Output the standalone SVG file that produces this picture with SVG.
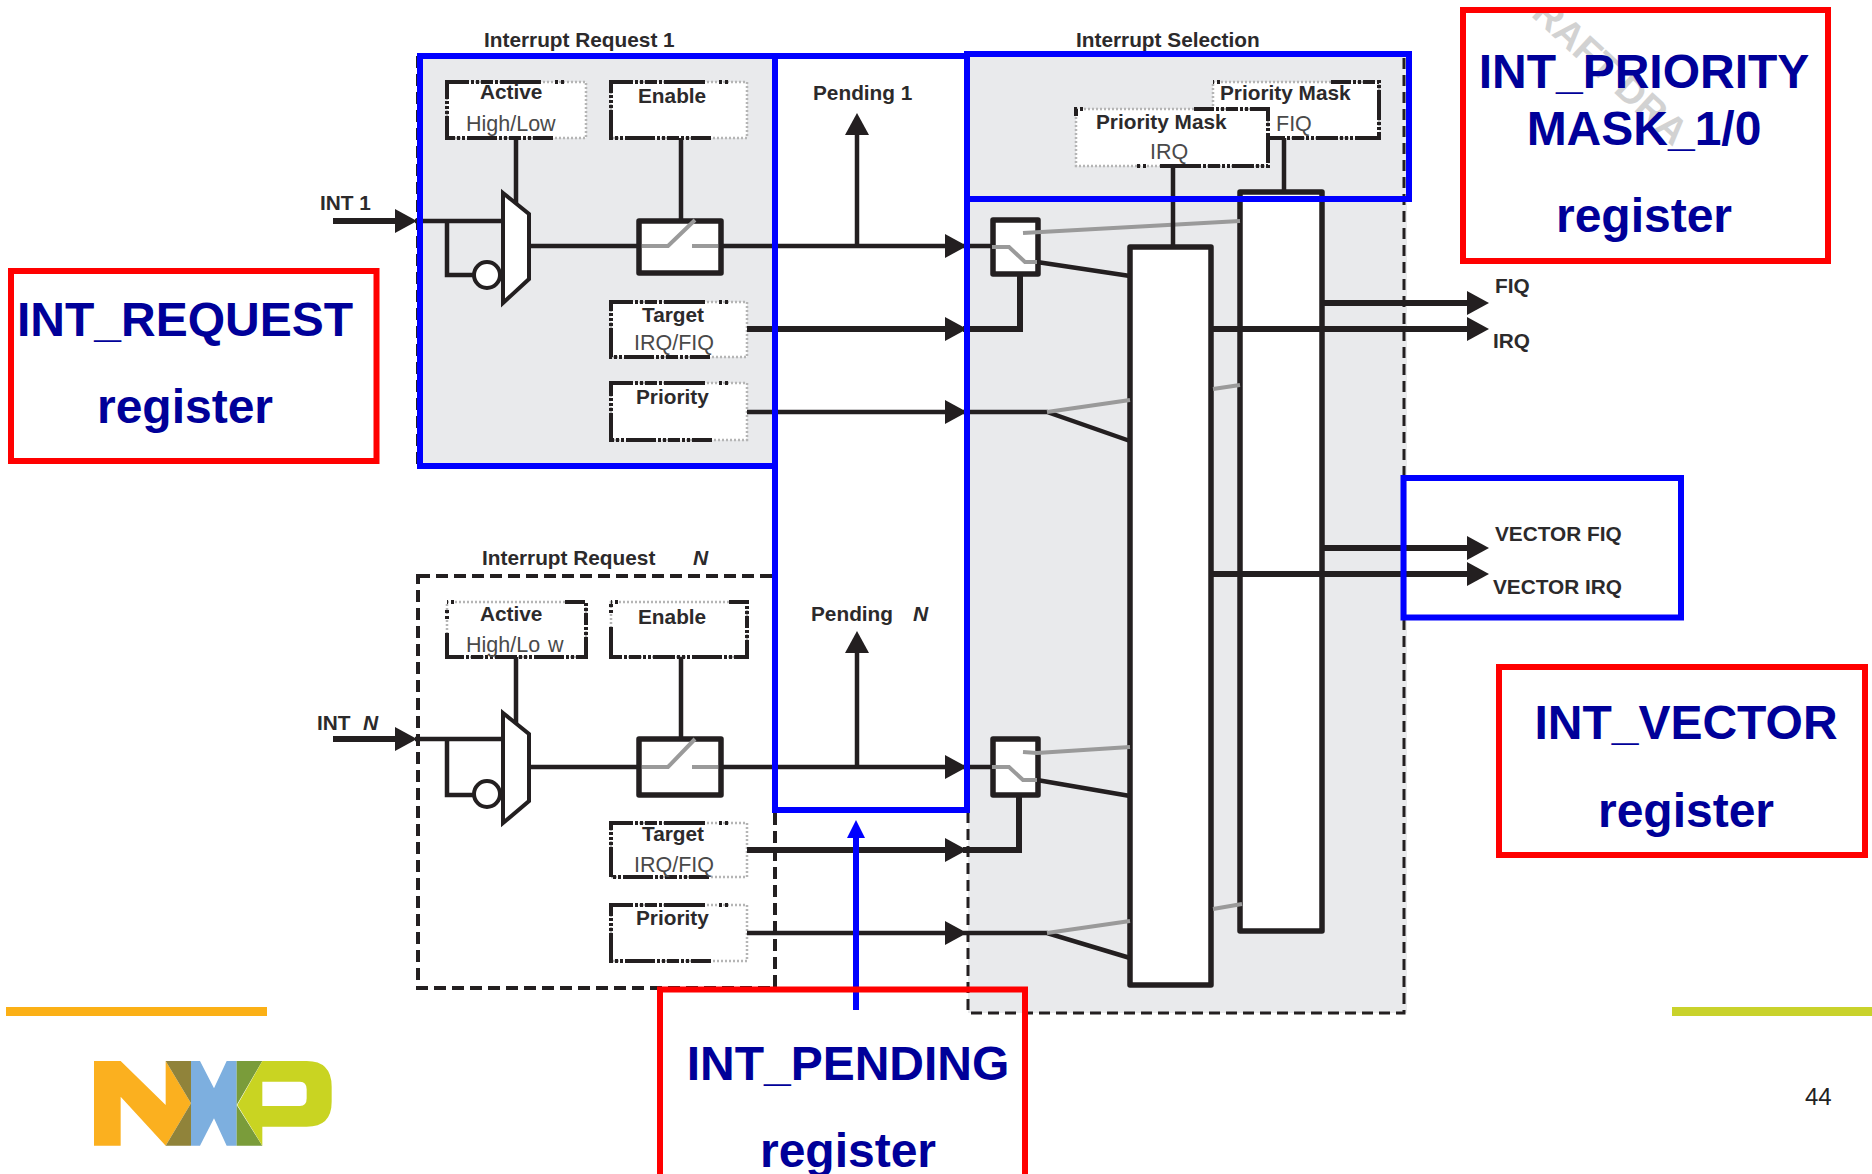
<svg xmlns="http://www.w3.org/2000/svg" width="1872" height="1174" viewBox="0 0 1872 1174">
<style>
text{font-family:"Liberation Sans",Arial,sans-serif}
.b{font-weight:700;font-size:20.8px;fill:#2c2a2b}
.i{font-weight:700;font-style:italic;font-size:21px;fill:#2c2a2b}
.r{font-size:21.5px;fill:#4a4a4a}
.big{font-weight:700;font-size:48px;fill:#000099;text-anchor:middle}
.reg{fill:#fff;stroke:#b5b5b5;stroke-width:2.5;stroke-dasharray:2 2}
.regd{fill:none;stroke:#231f20;stroke-width:4;stroke-dasharray:22 2 3 2 3 2 12 2 3 2 41 14 3 3 3 111 20 2 3 2 3 2 12 2 3 2 3 2 30 2 3 2 3 2 30 2 3 2 3 2 3 2}
.regn{fill:none;stroke:#231f20;stroke-width:4;stroke-dashoffset:110;stroke-dasharray:22 2 3 2 3 2 12 2 3 2 41 14 3 3 3 111 20 2 3 2 3 2 12 2 3 2 3 2 30 2 3 2 3 2 30 2 3 2 3 2 3 2}
.dash{fill:none;stroke:#231f20;stroke-width:4;stroke-dasharray:12 6}
.dash2{fill:none;stroke:#231f20;stroke-width:3;stroke-dasharray:11 6}
.blk{fill:#fff;stroke:#231f20;stroke-width:5.5;stroke-linejoin:round}
.mux{fill:#fff;stroke:#231f20;stroke-width:4}
.w{fill:none;stroke:#231f20;stroke-width:4.5}
.t{fill:none;stroke:#231f20;stroke-width:6}
.g{fill:none;stroke:#9a9a9a;stroke-width:4}
.bl{fill:none;stroke:#0000ff;stroke-width:6}
.rd{fill:none;stroke:#ff0000;stroke-width:6}
</style>
<defs>
<marker id="ah" markerUnits="userSpaceOnUse" markerWidth="24" markerHeight="24" viewBox="0 0 22 24" refX="10" refY="12" orient="auto"><path d="M0 0L22 12L0 24Z" fill="#231f20"/></marker>
<marker id="ahb" markerUnits="userSpaceOnUse" markerWidth="18" markerHeight="18" viewBox="0 0 18 18" refX="8" refY="9" orient="auto"><path d="M0 0L18 9L0 18Z" fill="#0000ff"/></marker>
<clipPath id="wm"><rect x="1466" y="13" width="360" height="245"/></clipPath>
</defs>
<rect width="1872" height="1174" fill="#fff"/>

<g id="bg-request-1"><rect x="418" y="54" width="357" height="412" fill="#e9eaec"/><path class="dash" d="M418 56V466"/></g>
<g id="bg-selection"><rect x="968" y="56" width="439" height="957" fill="#e9eaec"/><path class="dash2" d="M968 200V1013H1404V56"/></g>
<g id="bg-request-n"><rect class="dash" x="418" y="576" width="357" height="412"/></g>

<g id="watermark" clip-path="url(#wm)"><text transform="translate(1510,-3) rotate(42.600)" font-size="38" font-weight="700" fill="#d2d2d2">DRAFT DRA</text></g>

<text class="b" x="484" y="47">Interrupt Request 1</text>
<text class="b" x="482" y="565">Interrupt Request</text><text class="i" x="693" y="565">N</text>
<text class="b" x="1076" y="47">Interrupt Selection</text>
<text class="b" x="320" y="210">INT 1</text>
<text class="b" x="317" y="730">INT</text><text class="i" x="363" y="730">N</text>
<text class="b" x="813" y="100">Pending 1</text>
<text class="b" x="811" y="621">Pending</text><text class="i" x="913" y="621">N</text>
<text class="b" x="1495" y="293">FIQ</text>
<text class="b" x="1493" y="348">IRQ</text>
<text class="b" x="1495" y="541">VECTOR FIQ</text>
<text class="b" x="1493" y="594">VECTOR IRQ</text>

<g id="active-1"><rect class="reg" x="447" y="82" width="139" height="56"/><rect class="regd" x="447" y="82" width="139" height="56"/><text class="b" x="480" y="99">Active</text><text class="r" x="466" y="131">High/Low</text></g>
<g id="enable-1"><rect class="reg" x="611" y="82" width="136" height="56"/><rect class="regd" x="611" y="82" width="136" height="56"/><text class="b" x="638" y="103">Enable</text></g>
<g id="target-1"><rect class="reg" x="611" y="302" width="136" height="55"/><rect class="regd" x="611" y="302" width="136" height="55"/><text class="b" x="642" y="322">Target</text><text class="r" x="634" y="350">IRQ/FIQ</text></g>
<g id="priority-1"><rect class="reg" x="611" y="383" width="136" height="57"/><rect class="regd" x="611" y="383" width="136" height="57"/><text class="b" x="636" y="404">Priority</text></g>
<g id="mux-1"><path class="mux" d="M503 193L529 214V279L503 303Z"/><circle class="mux" cx="487" cy="275" r="13"/></g>
<g id="switch-1"><rect class="blk" x="639" y="221" width="82" height="52"/><path class="g" d="M642 246H668L695 220M692 246H718"/></g>

<g id="active-n"><rect class="reg" x="447" y="602" width="139" height="55"/><rect class="regn" x="447" y="602" width="139" height="55"/><text class="b" x="480" y="621">Active</text><text class="r" x="466" y="652">High/Lo</text><text class="r" x="548" y="652">w</text></g>
<g id="enable-n"><rect class="reg" x="611" y="602" width="136" height="55"/><rect class="regn" x="611" y="602" width="136" height="55"/><text class="b" x="638" y="624">Enable</text></g>
<g id="target-n"><rect class="reg" x="611" y="823" width="136" height="54"/><rect class="regd" x="611" y="823" width="136" height="54"/><text class="b" x="642" y="841">Target</text><text class="r" x="634" y="872">IRQ/FIQ</text></g>
<g id="priority-n"><rect class="reg" x="611" y="905" width="136" height="56"/><rect class="regd" x="611" y="905" width="136" height="56"/><text class="b" x="636" y="925">Priority</text></g>
<g id="mux-n"><path class="mux" d="M503 713L529 734V801L503 823Z"/><circle class="mux" cx="487" cy="794" r="13"/></g>
<g id="switch-n"><rect class="blk" x="639" y="739" width="82" height="56"/><path class="g" d="M642 767H668L695 739M692 767H718"/></g>

<g id="priority-mask-fiq"><rect class="reg" x="1213" y="82" width="166" height="56"/><rect class="regn" x="1213" y="82" width="166" height="56"/><text class="b" x="1220" y="100">Priority Mask</text><text class="r" x="1276" y="131">FIQ</text></g>
<g id="priority-mask-irq"><rect class="reg" x="1076" y="109" width="192" height="57"/><rect class="regn" x="1076" y="109" width="192" height="57"/><text class="b" x="1096" y="129">Priority Mask</text><text class="r" x="1150" y="159">IRQ</text></g>
<g id="selector-1"><rect class="blk" x="993" y="220" width="45" height="54"/></g>
<g id="selector-n"><rect class="blk" x="993" y="739" width="45" height="56"/></g>
<g id="tall-irq"><rect class="blk" x="1130" y="247" width="81" height="738"/></g>
<g id="tall-fiq"><rect class="blk" x="1240" y="192" width="82" height="739"/></g>

<g id="connectors">
<path class="t" d="M333 221H405" marker-end="url(#ah)"/>
<path class="w" d="M415 221H503M447 221V275H474M516 138V203M529 246H639M681 138V221M721 246H955" marker-end="url(#ah)"/>
<path class="w" d="M857 246V125" marker-end="url(#ah)"/>
<path class="t" d="M747 329H955" marker-end="url(#ah)"/>
<path class="w" d="M747 412H955" marker-end="url(#ah)"/>
<path class="w" d="M963 246H993M1037 262L1130 276M963 412H1047L1130 441"/>
<path class="t" d="M963 329H1020V274"/>
<path class="g" d="M1023 233L1240 221M992 247H1009L1025 262H1037M1047 412L1130 400M1213 389L1240 385"/>
<path class="w" d="M1173 166V247M1284 138V192"/>
<path class="t" d="M1322 303H1477" marker-end="url(#ah)"/>
<path class="t" d="M1211 329H1477" marker-end="url(#ah)"/>
<path class="t" d="M1322 548H1477" marker-end="url(#ah)"/>
<path class="t" d="M1211 574H1477" marker-end="url(#ah)"/>

<path class="t" d="M333 739H405" marker-end="url(#ah)"/>
<path class="w" d="M415 739H503M447 739V795H474M516 657V723M529 767H639M681 657V739M721 767H955" marker-end="url(#ah)"/>
<path class="w" d="M857 767V643" marker-end="url(#ah)"/>
<path class="t" d="M747 850H955" marker-end="url(#ah)"/>
<path class="w" d="M747 933H955" marker-end="url(#ah)"/>
<path class="w" d="M963 767H993M1037 780L1130 796M963 933H1047L1130 958"/>
<path class="t" d="M963 850H1019V795"/>
<path class="g" d="M1023 752L1037 753L1130 747M992 767H1009L1023 780H1037M1047 933L1130 921M1213 909L1242 904"/>
</g>

<g id="blue-request"><rect class="bl" x="420" y="56" width="355" height="410"/></g>
<g id="blue-pending"><rect class="bl" x="775" y="56" width="192" height="754"/></g>
<g id="blue-mask"><rect class="bl" x="967" y="54" width="442" height="145"/></g>
<g id="blue-vector"><rect class="bl" x="1403.500" y="478" width="277.500" height="139.500"/></g>
<path id="blue-arrow" class="bl" d="M856 1010V830" marker-end="url(#ahb)"/>

<g id="int-request"><rect class="rd" x="11" y="271" width="365.500" height="190"/><text class="big" x="185" y="336">INT_REQUEST</text><text class="big" x="185" y="423">register</text></g>
<g id="int-priority"><rect class="rd" x="1463" y="10" width="365" height="251"/><text class="big" x="1644" y="88">INT_PRIORITY</text><text class="big" x="1644" y="145">MASK_1/0</text><text class="big" x="1644" y="232">register</text></g>
<g id="int-vector"><rect class="rd" x="1499" y="667" width="366" height="188"/><text class="big" x="1686" y="739">INT_VECTOR</text><text class="big" x="1686" y="827">register</text></g>
<g id="int-pending"><rect class="rd" x="660" y="989.500" width="365" height="200"/><text class="big" x="848" y="1080">INT_PENDING</text><text class="big" x="848" y="1167">register</text></g>

<g id="footer">
<rect x="6" y="1007" width="261" height="9" fill="#fbb016"/>
<rect x="1672" y="1007" width="200" height="9" fill="#c9d22b"/>
<text x="1805" y="1105" font-size="24" fill="#222">44</text>
</g>
<g id="nxp-logo" transform="translate(0,990) scale(.33333)">
<path fill="#fbb01f" d="M282 213H362L497 345V213L573 340L497 467L362 320V467H282Z"/>
<path fill="#90833a" d="M497 213H573V340ZM497 467L573 340V467Z"/>
<path fill="#7dafdf" d="M573 213H600L642 295L680 213H710V467H680L642 385L600 467H573Z"/>
<path fill="#7a9c3a" d="M710 213H787L710 345ZM710 345L787 467H710Z"/>
<path fill="#c9d422" fill-rule="evenodd" d="M787 213H920Q995 213 995 290V335Q995 410 920 410H787V467L712 345ZM787 275V348H900Q920 348 920 325V298Q920 275 900 275Z"/>
</g>
</svg>
